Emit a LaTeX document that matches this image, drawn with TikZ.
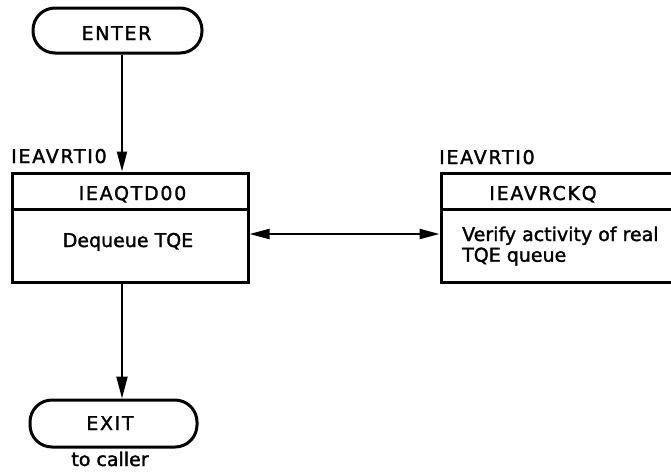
\documentclass[tikz,border=0pt]{standalone}
\usepackage{fontspec}
\setmainfont{DejaVu Sans}[FakeBold=1.6]
\usetikzlibrary{arrows.meta}
\begin{document}
\begin{tikzpicture}[x=1pt,y=-1pt,
  font=\fontsize{19}{20.7}\selectfont,
  boxline/.style={line width=3pt},
  flow/.style={line width=2.2pt},
  tip/.style={-{Triangle[length=20pt,width=10pt]}},
  terminal/.style={boxline,draw,rectangle,rounded corners=22pt,inner sep=0pt},
  modbox/.style={boxline,draw,rectangle,inner sep=0pt,minimum height=109pt},
  caps/.style={font=\fontsize{19}{20.7}\selectfont\addfontfeature{LetterSpace=9}},
  txt/.style={inner sep=0pt,anchor=base}]
\clip (0,0) rectangle (671,472);
\useasboundingbox (0,0) rectangle (671,472);

% start terminal
\node[terminal,minimum width=169pt,minimum height=45pt] (enter) at (117.5,30.5) {};
\node[txt,caps] (entertxt) at (116.5,40) {ENTER};

% calling module box
\node[modbox,minimum width=236pt] (main) at (130,227.5) {};
\draw[boxline] (main.west |- 0,209) -- (main.east |- 0,209);
\node[txt,caps,anchor=base west] (mainlbl) at (11,163) {IEAVRTI0};
\node[txt,caps] (mainhead) at (132.5,200) {IEAQTD00};
\node[txt] (maintxt) at (128,247) {Dequeue TQE};

% verification module box
\node[modbox,minimum width=264pt] (rbox) at (573,227.5) {};
\draw[boxline] (rbox.west |- 0,209) -- (rbox.east |- 0,209);
\node[txt,caps,anchor=base west] (rlbl) at (439,164) {IEAVRTI0};
\node[txt,caps] (rhead) at (543,200) {IEAVRCKQ};
\node[inner sep=0pt,anchor=base west,align=left] (rtxt) at (462,261.7) {Verify activity of real\\TQE queue};

% end terminal
\node[terminal,minimum width=167pt,minimum height=47pt] (exit) at (113.5,423.5) {};
\node[txt,caps] (exittxt) at (110,430) {EXIT};
\node[txt] (caller) at (110,466) {to caller};

% connectors
\coordinate (spine) at (122,0);
\coordinate (link) at (0,234);
\draw[flow,tip] (enter.south -| spine) -- (main.north -| spine);
\draw[flow,{Triangle[length=20pt,width=10pt]}-{Triangle[length=20pt,width=10pt]}]
  (main.east |- link) -- (rbox.west |- link);
\draw[flow,-{Triangle[length=22pt,width=11pt]}] (main.south -| spine) -- (exit.north -| spine);
\end{tikzpicture}
\end{document}
